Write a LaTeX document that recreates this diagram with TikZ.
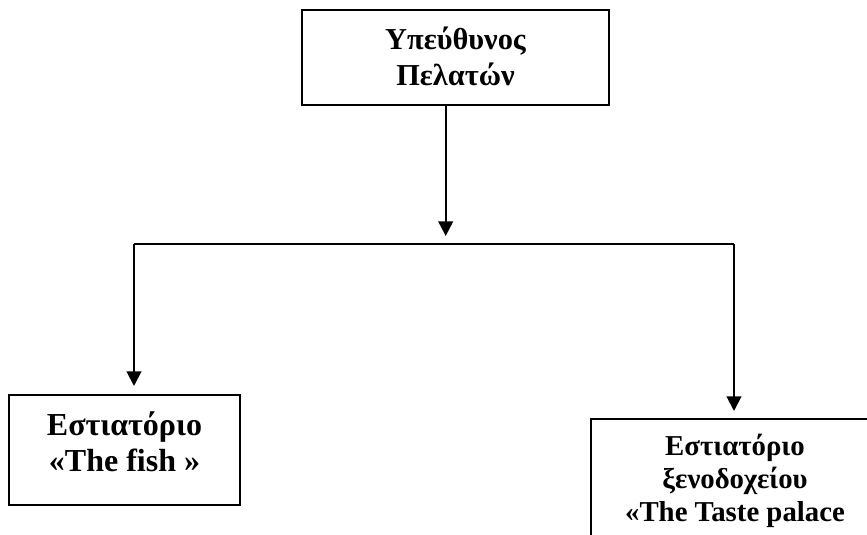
\documentclass[tikz,border=0pt]{standalone}
\usepackage{fontspec}
\setmainfont{Liberation Serif}
\usetikzlibrary{arrows.meta}
\begin{document}
\begin{tikzpicture}[x=0.75pt,y=-0.75pt,
  box/.style={draw, line width=1.5pt, inner sep=0pt, rectangle},
  lbl/.style={align=center, inner sep=0pt, anchor=base},
  arr/.style={-{Triangle[width=11pt,length=11pt]}, line width=1.5pt},
  conn/.style={line width=1.5pt}]
\useasboundingbox (0,0) rectangle (867,535);
\clip (0,0) rectangle (867,535);
% boxes
\node[box, minimum width=230.25pt, minimum height=71.25pt] (boss) at (455.5,57.5) {};
\node[box, minimum width=173.25pt, minimum height=82.5pt] (lbox) at (124.5,450) {};
\node[box, minimum width=213.75pt, minimum height=105.75pt] (rbox) at (733.5,489.5) {};
% texts
\node[lbl, font=\fontsize{22.8}{26.5}\selectfont\bfseries] (bosst) at (455.5,85) {Υπεύθυνος\\Πελατών};
\node[lbl, font=\fontsize{24}{27}\selectfont\bfseries] (lboxt) at (124.5,471) {Εστιατόριο\\«The fish »};
\node[lbl, font=\fontsize{21.6}{24.75}\selectfont\bfseries] (rboxt) at (735,521) {Εστιατόριο\\ξενοδοχείου\\«The Taste palace};
% connectors
\coordinate (hx) at (445.7,0);
\coordinate (jl) at (134,244);
\coordinate (jr) at (734,244);
\coordinate (jm) at (445.7,244);
\draw[arr, shorten >=6pt] (boss.south -| hx) -- (jm);
\draw[conn] (jl) -- (jr);
\draw[arr, shorten >=6pt] (jl) -- (jl |- lbox.north);
\draw[arr, shorten >=5.25pt] (jr) -- (jr |- rbox.north);
\end{tikzpicture}
\end{document}
